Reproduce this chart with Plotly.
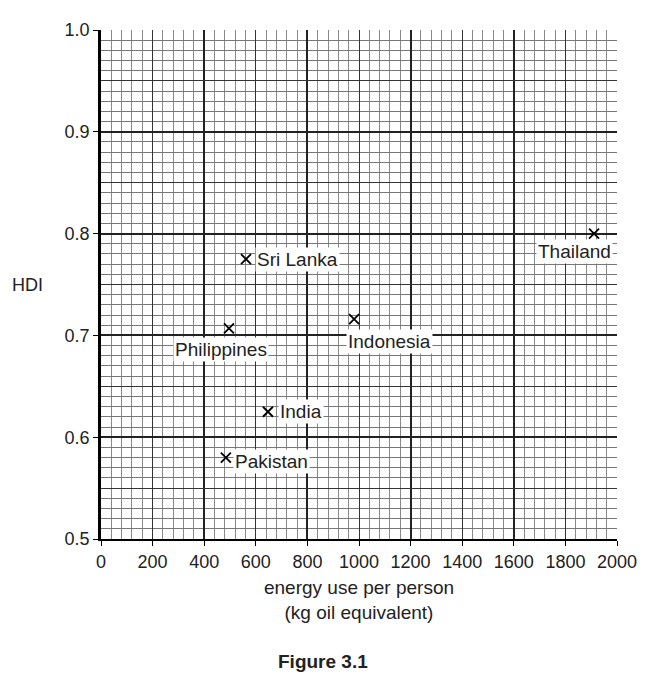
import plotly.graph_objects as go

    # data
countries = ['Sri Lanka', 'Philippines', 'Indonesia', 'India', 'Pakistan', 'Thailand']
energy = [562, 496, 981, 647, 484, 1911]
hdi = [0.775, 0.707, 0.716, 0.625, 0.580, 0.800]

    # label offsets (px) from each point
label_shift = {
    'Sri Lanka': ('left', 9, 0),
    'Philippines': ('center', -8, -21),
    'Indonesia': ('left', -8, -22),
    'India': ('left', 10, 0),
    'Pakistan': ('left', 7, -4),
    'Thailand': ('center', -20, -18),
}

font = 'Liberation Sans, Arial, sans-serif'

fig = go.Figure()

fig.add_trace(go.Scatter(
    x=energy, y=hdi, mode='markers',
    marker=dict(symbol='x-thin', size=10, line=dict(color='black', width=1.8)),
    hoverinfo='text', text=countries, showlegend=False))

    # invisible copy so the overlay axes get drawn
fig.add_trace(go.Scatter(
    x=energy, y=hdi, mode='markers', xaxis='x2', yaxis='y2',
    marker=dict(opacity=0), hoverinfo='skip', showlegend=False))

for name, x, y in zip(countries, energy, hdi):
    anchor, dx, dy = label_shift[name]
    fig.add_annotation(x=x, y=y, text=name, showarrow=False,
                       xanchor=anchor, yanchor='middle', xshift=dx, yshift=dy,
                       bgcolor='white', borderpad=1,
                       font=dict(size=19, color='#222'))

fig.add_annotation(text='HDI', xref='paper', yref='paper', x=-0.143, y=0.5,
                   xanchor='center', yanchor='middle', showarrow=False,
                   font=dict(size=18, color='#222'))
fig.add_annotation(text='<b>Figure 3.1</b>', xref='paper', yref='paper',
                   x=0.43, y=-0.241, xanchor='center', yanchor='middle',
                   showarrow=False, font=dict(size=19, color='#222'))

fig.update_layout(
    width=660, height=676,
    margin=dict(l=93, r=51, t=16, b=145),
    paper_bgcolor='white', plot_bgcolor='white',
    font=dict(family=font, size=18, color='#222'),
    xaxis=dict(
        range=[0, 2000], tick0=0, dtick=200,
        showgrid=True, gridcolor='#333', gridwidth=1.2,
        minor=dict(dtick=40, showgrid=True, gridcolor='#888', gridwidth=1),
        showline=True, linecolor='black', linewidth=2,
        ticks='outside', ticklen=5, tickcolor='black',
        zeroline=False, fixedrange=True,
        title=dict(text='energy use per person<br>(kg oil equivalent)',
                   font=dict(size=19), standoff=10),
    ),
    yaxis=dict(
        range=[0.5, 1.0], tick0=0.5, dtick=0.1, tickformat='.1f',
        showgrid=True, gridcolor='#222', gridwidth=1.6,
        minor=dict(dtick=0.01, showgrid=True, gridcolor='#777', gridwidth=1),
        showline=True, linecolor='black', linewidth=2.5,
        ticks='outside', ticklen=5, tickcolor='black',
        zeroline=False, fixedrange=True,
    ),
    xaxis2=dict(
        range=[0, 2000], tick0=0, dtick=400, overlaying='x', side='bottom',
        showgrid=True, gridcolor='#222', gridwidth=1.8,
        showticklabels=False, showline=False, zeroline=False, fixedrange=True,
    ),
    yaxis2=dict(
        range=[0.5, 1.0], tick0=0.55, dtick=0.1, overlaying='y', side='left',
        showgrid=True, gridcolor='#333', gridwidth=1.2,
        showticklabels=False, showline=False, zeroline=False, fixedrange=True,
    ),
)

fig.write_html("out.html")
